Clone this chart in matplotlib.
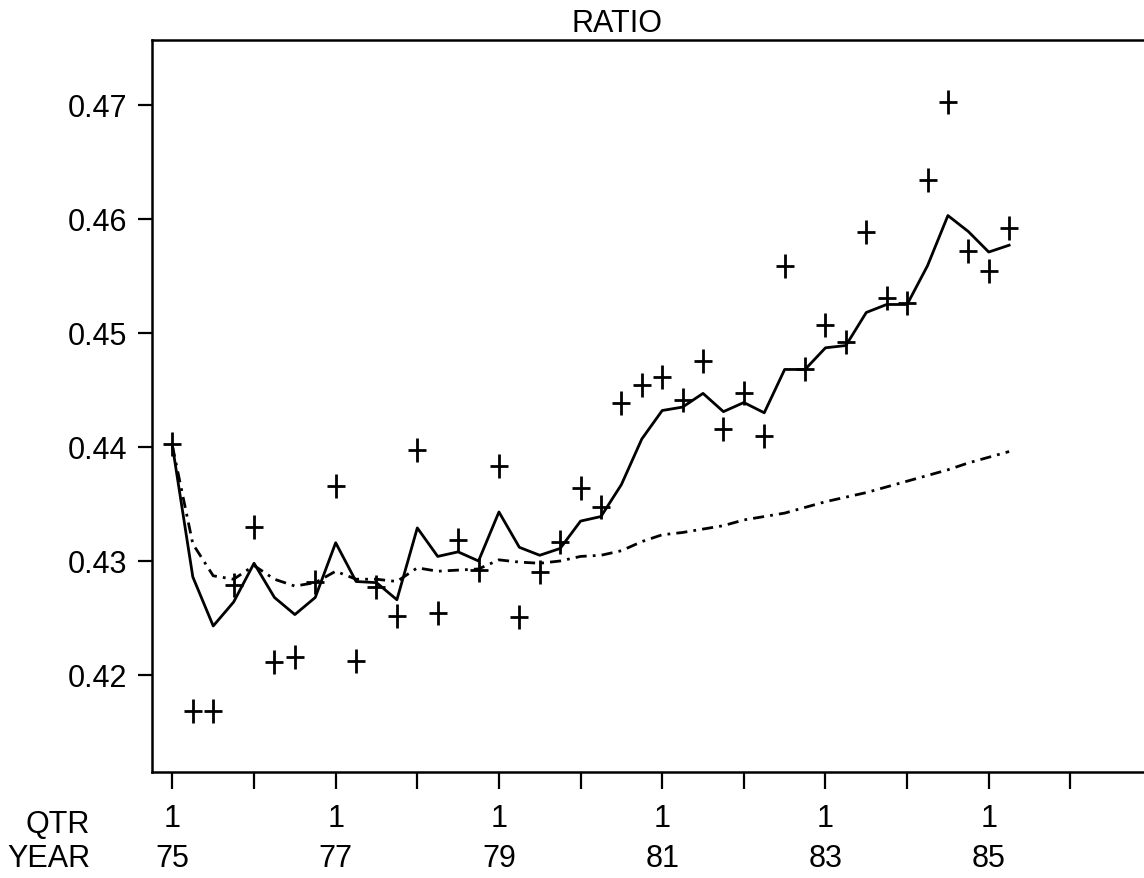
import matplotlib
matplotlib.use("Agg")
import matplotlib.pyplot as plt
from matplotlib.path import Path
import numpy as np

# quarterly data, 1975 Q1 .. 1985 Q2
actual = [0.4403, 0.4168, 0.4168, 0.4279, 0.4330, 0.4211, 0.4216, 0.4282,
          0.4366, 0.4212, 0.4277, 0.4252, 0.4397, 0.4254, 0.4318, 0.4292,
          0.4383, 0.4251, 0.4290, 0.4317, 0.4364, 0.4347, 0.4439, 0.4454,
          0.4461, 0.4441, 0.4475, 0.4416, 0.4447, 0.4410, 0.4559, 0.4468,
          0.4507, 0.4492, 0.4589, 0.4531, 0.4526, 0.4634, 0.4703, 0.4572,
          0.4554, 0.4592]
fitted = [0.4401, 0.4286, 0.4243, 0.4264, 0.4298, 0.4268, 0.4253, 0.4268,
          0.4316, 0.4282, 0.4281, 0.4266, 0.4329, 0.4304, 0.4308, 0.4300,
          0.4343, 0.4312, 0.4305, 0.4311, 0.4335, 0.4339, 0.4367, 0.4407,
          0.4432, 0.4435, 0.4447, 0.4431, 0.4439, 0.4430, 0.4468, 0.4468,
          0.4487, 0.4489, 0.4518, 0.4525, 0.4525, 0.4559, 0.4603, 0.4589,
          0.4571, 0.4577]
trend = [0.4401, 0.4315, 0.4287, 0.4284, 0.4296, 0.4284, 0.4278, 0.4281,
         0.4291, 0.4284, 0.4284, 0.4282, 0.4294, 0.4291, 0.4292, 0.4293,
         0.4301, 0.4299, 0.4298, 0.4300, 0.4304, 0.4305, 0.4309, 0.4317,
         0.4323, 0.4325, 0.4328, 0.4331, 0.4336, 0.4339, 0.4342, 0.4347,
         0.4352, 0.4356, 0.4360, 0.4365, 0.4370, 0.4375, 0.4380, 0.4386,
         0.4391, 0.4396]

year_ticks = ["75", "", "77", "", "79", "", "81", "", "83", "", "85", ""]
qtr_ticks = ["1", "", "1", "", "1", "", "1", "", "1", "", "1", ""]
yticks = [0.42, 0.43, 0.44, 0.45, 0.46, 0.47]

plt.rcParams["font.family"] = ["Liberation Sans", "DejaVu Sans"]
fs = 22

fig = plt.figure(figsize=(11.44, 8.79), dpi=100)
ax = fig.add_axes([152 / 1144, 1 - 773 / 879, 1000 / 1144, (773 - 41) / 879])

x = np.arange(len(actual))

# taller-than-wide plus sign
plus = Path([(-0.8, 0), (0.8, 0), (0, -1), (0, 1)],
            [Path.MOVETO, Path.LINETO, Path.MOVETO, Path.LINETO])

ax.plot(x, fitted, color="black", lw=2.0)
tl, = ax.plot(x, trend, color="black", lw=2.0)
tl.set_dashes((4.0, 2.2, 1.0, 2.2))
ax.plot(x, actual, ls="none", marker=plus, ms=17, mew=2.0, color="black")

ax.set_xlim(-1, 48)
ax.set_ylim(0.41149, 0.4757)

xt = np.arange(0, 48, 4)
ax.set_xticks(xt)
ax.set_xticklabels(qtr_ticks, fontsize=fs)
ax.set_yticks(yticks)
ax.set_yticklabels(["%.2f" % v for v in yticks], fontsize=fs)

ax.tick_params(axis="y", direction="out", length=10, width=1.6, pad=8)
ax.tick_params(axis="x", direction="out", length=12, width=1.6, pad=10)

# year row under the quarter labels
for xi, yl in zip(xt, year_ticks):
    ax.text(xi, (773 - 859) / 732, yl, transform=ax.get_xaxis_transform(),
            ha="center", va="center", fontsize=fs)

for s in ["left", "top", "bottom"]:
    ax.spines[s].set_linewidth(1.8)
ax.spines["right"].set_visible(False)

fig.text(617 / 1144, 1 - 24 / 879, "RATIO", ha="center", va="center", fontsize=fs)
fig.text(90 / 1144, 1 - 825 / 879, "QTR", ha="right", va="center", fontsize=fs)
fig.text(90 / 1144, 1 - 859 / 879, "YEAR", ha="right", va="center", fontsize=fs)

fig.savefig("out.png", dpi=100)
